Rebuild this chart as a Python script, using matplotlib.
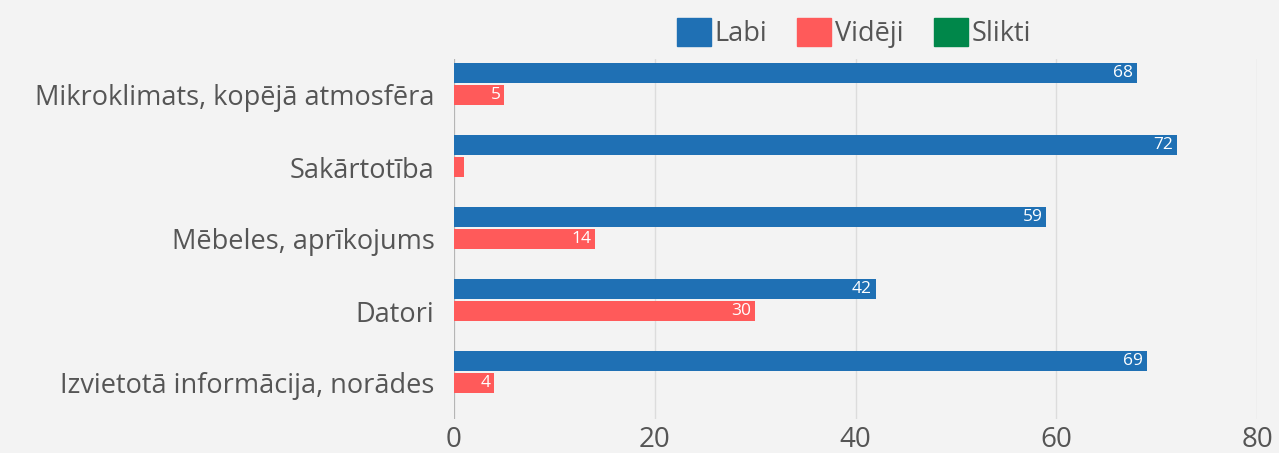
import matplotlib
matplotlib.use("Agg")
import matplotlib.pyplot as plt
from matplotlib.patches import Patch
import numpy as np

categories = ["Mikroklimats, kopējā atmosfēra", "Sakārtotība", "Mēbeles, aprīkojums",
              "Datori", "Izvietotā informācija, norādes"]
labi = [68, 72, 59, 42, 69]
videji = [5, 1, 14, 30, 4]
slikti = [0, 0, 0, 0, 0]
series_names = ["Labi", "Vidēji", "Slikti"]
colors = ["#1f70b4", "#ff5a5a", "#00874a"]
xticks = [0, 20, 40, 60, 80]

plt.rcParams['font.family'] = ['Open Sans', 'DejaVu Sans']
bg = "#f3f3f3"
txt = "#555555"

fig = plt.figure(figsize=(12.79, 4.53), dpi=100, facecolor=bg)
ax = fig.add_axes([454/1279, 34/453, (1257-454)/1279, 360/453], facecolor=bg)

y = np.arange(len(categories))
off = 22/72
h = 20/72
for i, (vals, c) in enumerate(zip([labi, videji, slikti], colors)):
    pos = y + (i - 1) * off
    bars = ax.barh(pos, vals, height=h, color=c, zorder=3)
    for b, v in zip(bars, vals):
        if v >= 3:
            ax.text(v - 0.35, b.get_y() + b.get_height()/2, str(v), color="white",
                    ha="right", va="center", fontsize=12.5, zorder=4)

ax.set_ylim(len(categories) - 0.5, -0.5)
ax.set_xlim(0, 80)
ax.set_xticks(xticks)
ax.set_yticks(y)
ax.set_yticklabels(categories)
ax.tick_params(axis='y', length=0, pad=14, labelsize=19.5, labelcolor=txt)
ax.tick_params(axis='x', length=0, pad=5, labelsize=20, labelcolor=txt)
ax.grid(axis='x', color="#dcdcdc", linewidth=1, zorder=0)
for s in ax.spines.values():
    s.set_visible(False)
ax.axvline(0, color="#b5b5b5", linewidth=1.5, zorder=2)

handles = [Patch(facecolor=c, edgecolor=c) for c in colors]
fig.legend(handles, series_names, loc="center", bbox_to_anchor=(854/1279, 1 - 33/453),
           ncol=3, frameon=False, fontsize=19.5, labelcolor=txt,
           handlelength=1.25, handleheight=1.25, handletextpad=0.15, columnspacing=1.1)

fig.savefig("out.png", dpi=100, facecolor=bg)
